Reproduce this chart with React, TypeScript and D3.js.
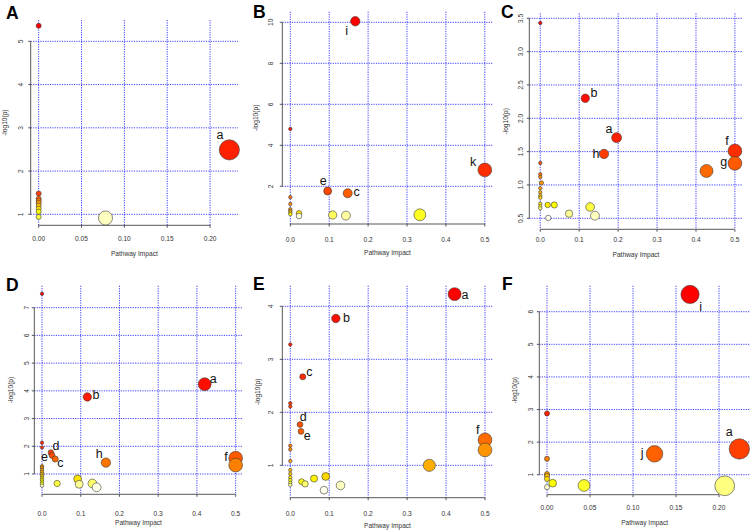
import React from "react";
import * as d3 from "d3";

// ---------- Data ----------
const impactA = [0, 0.2225, 0, 0, 0, 0, 0, 0, 0, 0, 0.078];
const logpA = [5.36, 2.49, 1.48, 1.36, 1.31, 1.26, 1.2, 1.13, 1.06, 0.94, 0.915];
const labelA = ["", "a", "", "", "", "", "", "", "", "", ""];

const impactB = [0.167, 0, 0.5, 0.096, 0.1475, 0, 0, 0, 0, 0, 0, 0.0224, 0.333, 0.109, 0.143, 0.0224];
const logpB = [10.05, 4.8, 2.8, 1.77, 1.66, 1.47, 1.14, 0.88, 0.8, 0.72, 0.64, 0.68, 0.61, 0.6, 0.57, 0.55];
const labelB = ["i", "", "k", "e", "c", "", "", "", "", "", "", "", "", "", "", ""];

const impactC = [0, 0.1156, 0.196, 0.5, 0.1636, 0, 0.5, 0.427, 0, 0, 0.003, 0, 0, 0, 0, 0, 0.019, 0.036, 0, 0.128, 0, 0.074, 0.1405, 0.0205];
const logpC = [3.43, 2.3, 1.71, 1.51, 1.465, 1.33, 1.325, 1.21, 1.16, 1.12, 1.03, 0.95, 0.89, 0.84, 0.81, 0.72, 0.7, 0.7, 0.68, 0.67, 0.65, 0.57, 0.54, 0.505];
const labelC = ["", "b", "a", "f", "h", "", "g", "", "", "", "", "", "", "", "", "", "", "", "", "", "", "", "", ""];

const impactD = [0, 0.42, 0.117, 0, 0, 0.023, 0.026, 0.5, 0.034, 0.165, 0.5, 0, 0, 0, 0, 0, 0, 0, 0, 0, 0, 0, 0.092, 0.039, 0.13, 0.096, 0.141];
const logpD = [7.5, 4.24, 3.78, 2.13, 1.96, 1.77, 1.67, 1.57, 1.54, 1.41, 1.32, 1.28, 1.22, 1.15, 1.08, 1.01, 0.94, 0.87, 0.8, 0.73, 0.66, 0.58, 0.82, 0.66, 0.66, 0.63, 0.52];
const labelD = ["", "a", "b", "", "", "d", "e", "f", "c", "h", "", "", "", "", "", "", "", "", "", "", "", "", "", "", "", "", ""];

const impactE = [0.422, 0.117, 0, 0.032, 0, 0, 0.025, 0.0275, 0.5, 0, 0, 0.5, 0, 0.357, 0, 0, 0.091, 0, 0.061, 0, 0.029, 0, 0.038, 0, 0.129, 0.0866];
const logpE = [4.23, 3.77, 3.28, 2.67, 2.17, 2.11, 1.77, 1.64, 1.48, 1.37, 1.3, 1.29, 1.08, 1.0, 0.91, 0.84, 0.79, 0.77, 0.75, 0.72, 0.69, 0.67, 0.65, 0.63, 0.62, 0.53];
const labelE = ["a", "b", "", "c", "", "", "d", "e", "f", "", "", "", "", "", "", "", "", "", "", "", "", "", "", "", "", ""];

const impactF = [0.1663, 0, 0.2236, 0.125, 0, 0, 0, 0, 0.0066, 0.043, 0.2066, 0];
const logpF = [6.53, 2.88, 1.79, 1.64, 1.49, 1.02, 0.96, 0.87, 0.74, 0.67, 0.66, 0.62];
const labelF = ["i", "", "a", "j", "", "", "", "", "", "", "", ""];

const xTicksA = [0, 0.05, 0.1, 0.15, 0.2];
const yTicksA = [1, 2, 3, 4, 5];
const xTicksB = [0, 0.1, 0.2, 0.3, 0.4, 0.5];
const yTicksB = [2, 4, 6, 8, 10];
const xTicksC = [0, 0.1, 0.2, 0.3, 0.4, 0.5];
const yTicksC = [0.5, 1.0, 1.5, 2.0, 2.5, 3.0, 3.5];
const xTicksD = [0, 0.1, 0.2, 0.3, 0.4, 0.5];
const yTicksD = [1, 2, 3, 4, 5, 6, 7];
const xTicksE = [0, 0.1, 0.2, 0.3, 0.4, 0.5];
const yTicksE = [1, 2, 3, 4];
const xTicksF = [0, 0.05, 0.1, 0.15, 0.2];
const yTicksF = [1, 2, 3, 4, 5, 6];

const xTitle = "Pathway Impact";
const yTitle = "-log10(p)";

// ---------- Layout ----------
type Panel = {
  letter: string;
  impact: number[];
  logp: number[];
  labels: string[];
  xTicks: number[];
  yTicks: number[];
  xFmt: string;
  yFmt: string;
  box: [number, number, number, number];
  xDom: [number, number];
  yDom: [number, number];
  letterPos: [number, number];
  xtl: number;
  xl: number;
  ytl: number;
  yl: number;
  labelOff: Record<string, [number, number]>;
};

const panels: Panel[] = [
  {
    letter: "A", impact: impactA, logp: logpA, labels: labelA, xTicks: xTicksA, yTicks: yTicksA,
    xFmt: ".2f", yFmt: "d", box: [30.7, 20, 238, 225.3], xDom: [-0.0093, 0.2326], yDom: [0.746, 5.493],
    letterPos: [6, 19.3], xtl: 13.4, xl: 28, ytl: 10, yl: 26.7,
    labelOff: { a: [-9.3, -15.2] },
  },
  {
    letter: "B", impact: impactB, logp: logpB, labels: labelB, xTicks: xTicksB, yTicks: yTicksB,
    xFmt: ".1f", yFmt: "d", box: [282.3, 11.7, 492.7, 224], xDom: [-0.0206, 0.5203], yDom: [0.161, 10.517],
    letterPos: [253, 18.3], xtl: 15.3, xl: 28.7, ytl: 11.6, yl: 27.3,
    labelOff: { i: [-8.6, 9.4], e: [-4.4, -10], c: [9, -1.6], k: [-11.7, -8.3] },
  },
  {
    letter: "C", impact: impactC, logp: logpC, labels: labelC, xTicks: xTicksC, yTicks: yTicksC,
    xFmt: ".1f", yFmt: ".1f", box: [529.3, 13.3, 742.7, 229.3], xDom: [-0.0282, 0.52], yDom: [0.335, 3.575],
    letterPos: [501, 18.3], xtl: 10, xl: 24.7, ytl: 8.6, yl: 24.3,
    labelOff: { b: [8.7, -5.3], a: [-7.7, -8.4], h: [-8, 0], f: [-8, -10], g: [-11.3, -1.6] },
  },
  {
    letter: "D", impact: impactD, logp: logpD, labels: labelD, xTicks: xTicksD, yTicks: yTicksD,
    xFmt: ".1f", yFmt: "d", box: [34.3, 285.7, 242.7, 494.3], xDom: [-0.0199, 0.5182], yDom: [0.268, 7.793],
    letterPos: [6, 291], xtl: 19, xl: 28.4, ytl: 8.3, yl: 24.3,
    labelOff: { a: [8.6, -5.3], b: [8.7, -2], d: [5, -6.7], e: [-7.7, 2], c: [5.3, 3.7], h: [-6.7, -9], f: [-9.7, -1] },
  },
  {
    letter: "E", impact: impactE, logp: logpE, labels: labelE, xTicks: xTicksE, yTicks: yTicksE,
    xFmt: ".1f", yFmt: "d", box: [282.3, 285.7, 492.7, 497.7], xDom: [-0.0205, 0.5198], yDom: [0.389, 4.389],
    letterPos: [253, 290], xtl: 15.6, xl: 27.6, ytl: 11.6, yl: 25,
    labelOff: { a: [10.3, 0.4], b: [10.7, -1], c: [6.6, -4.7], d: [3.3, -7.3], e: [6.3, 4.7], f: [-7.3, -9.4] },
  },
  {
    letter: "F", impact: impactF, logp: logpF, labels: labelF, xTicks: xTicksF, yTicks: yTicksF,
    xFmt: ".2f", yFmt: "d", box: [539.3, 285.7, 750, 494.7], xDom: [-0.00895, 0.236], yDom: [0.387, 6.798],
    letterPos: [502, 290], xtl: 12.6, xl: 28, ytl: 9.3, yl: 25.3,
    labelOff: { i: [10.7, 12.4], a: [-10, -17.3], j: [-12.4, -1] },
  },
];

// R's heat.colors(n)
function heatColors(n: number): string[] {
  const j = Math.floor(n / 4);
  const i = n - j;
  const out: string[] = [];
  for (let k = 0; k < i; k++) {
    const g = i > 1 ? k / (i - 1) : 0;
    out.push(d3.rgb(255, Math.round(g * 255), 0).formatHex());
  }
  for (let k = 0; k < j; k++) {
    const from = 1 - 1 / (2 * j);
    const to = 1 / (2 * j);
    const s = j > 1 ? from + (k * (to - from)) / (j - 1) : from;
    out.push(d3.rgb(255, 255, Math.round((1 - s) * 255)).formatHex());
  }
  return out;
}

const FONT = "'Liberation Sans', Arial, Helvetica, sans-serif";

function PanelView({ p }: { p: Panel }) {
  const [l, t, r, b] = p.box;
  const x = d3.scaleLinear().domain(p.xDom).range([l, r]);
  const y = d3.scaleLinear().domain(p.yDom).range([b, t]);
  const pxPerUnit = x(1) - x(0);

  const n = p.impact.length;
  const order = d3.range(n).sort((a, c) => p.logp[c] - p.logp[a]);
  const colors = heatColors(n);
  const sq = p.impact.map(Math.sqrt);
  const minX = d3.min(sq) as number;
  const maxX = d3.max(sq) as number;
  const maxR = (maxX - minX) / 40;
  const minR = (maxX - minX) / 160;
  const rad = (i: number) => (minR + ((maxR - minR) * (sq[i] - minX)) / (maxX - minX)) * pxPerUnit;

  const xf = d3.format(p.xFmt);
  const yf = d3.format(p.yFmt);
  const xt0 = p.xTicks[0], xt1 = p.xTicks[p.xTicks.length - 1];
  const yt0 = p.yTicks[0], yt1 = p.yTicks[p.yTicks.length - 1];
  const gridStyle = { stroke: "#0000ff", strokeWidth: 1, strokeDasharray: "1.2 1.2", opacity: 0.75 };
  const axisCol = "#444";
  const tick = 2.5;

  return (
    <g>
      {/* grid */}
      {p.xTicks.map((v) => (
        <line key={"gx" + v} x1={x(v)} x2={x(v)} y1={t} y2={b} {...gridStyle} />
      ))}
      {p.yTicks.map((v) => (
        <line key={"gy" + v} x1={l} x2={r} y1={y(v)} y2={y(v)} {...gridStyle} />
      ))}
      {/* axes */}
      <line x1={x(xt0)} x2={x(xt1)} y1={b} y2={b} stroke={axisCol} strokeWidth={0.9} />
      {p.xTicks.map((v) => (
        <line key={"tx" + v} x1={x(v)} x2={x(v)} y1={b} y2={b + tick} stroke={axisCol} strokeWidth={0.9} />
      ))}
      {p.xTicks.map((v) => (
        <text key={"lx" + v} x={x(v)} y={b + p.xtl} fontSize={6.6} fill="#333" textAnchor="middle"
          dominantBaseline="central" fontFamily={FONT}>{xf(v)}</text>
      ))}
      <line x1={l} x2={l} y1={y(yt0)} y2={y(yt1)} stroke={axisCol} strokeWidth={0.9} />
      {p.yTicks.map((v) => (
        <line key={"ty" + v} x1={l - tick} x2={l} y1={y(v)} y2={y(v)} stroke={axisCol} strokeWidth={0.9} />
      ))}
      {p.yTicks.map((v) => (
        <text key={"ly" + v} transform={`translate(${l - p.ytl},${y(v)}) rotate(-90)`} fontSize={6.6} fill="#333"
          textAnchor="middle" dominantBaseline="central" fontFamily={FONT}>{yf(v)}</text>
      ))}
      <text x={(l + r) / 2} y={b + p.xl} fontSize={6.6} fill="#333" textAnchor="middle"
        dominantBaseline="central" fontFamily={FONT}>{xTitle}</text>
      <text transform={`translate(${l - p.yl},${(t + b) / 2}) rotate(-90)`} fontSize={6.6} fill="#333"
        textAnchor="middle" dominantBaseline="central" fontFamily={FONT}>{yTitle}</text>
      {/* circles */}
      {order.map((i, rank) => (
        <circle key={"c" + i} cx={x(p.impact[i])} cy={y(p.logp[i])} r={rad(i)} fill={colors[rank]}
          stroke="#3a3a3a" strokeWidth={0.6} />
      ))}
      {/* labels */}
      {p.labels.map((lab, i) =>
        lab ? (
          <text key={"t" + i} x={x(p.impact[i]) + p.labelOff[lab][0]} y={y(p.logp[i]) + p.labelOff[lab][1]}
            fontSize={12.5} fill="#111" textAnchor="middle" dominantBaseline="central" fontFamily={FONT}>{lab}</text>
        ) : null
      )}
      {/* panel letter */}
      <text x={p.letterPos[0]} y={p.letterPos[1]} fontSize={17.5} fontWeight="bold" fill="#000" fontFamily={FONT}>
        {p.letter}
      </text>
    </g>
  );
}

export default function App() {
  return (
    <svg width={753} height={532} style={{ position: "absolute", left: 0, top: 0, background: "#fff" }}
      viewBox="0 0 753 532">
      <rect x={0} y={0} width={753} height={532} fill="#fff" />
      {panels.map((p) => (
        <PanelView key={p.letter} p={p} />
      ))}
    </svg>
  );
}
